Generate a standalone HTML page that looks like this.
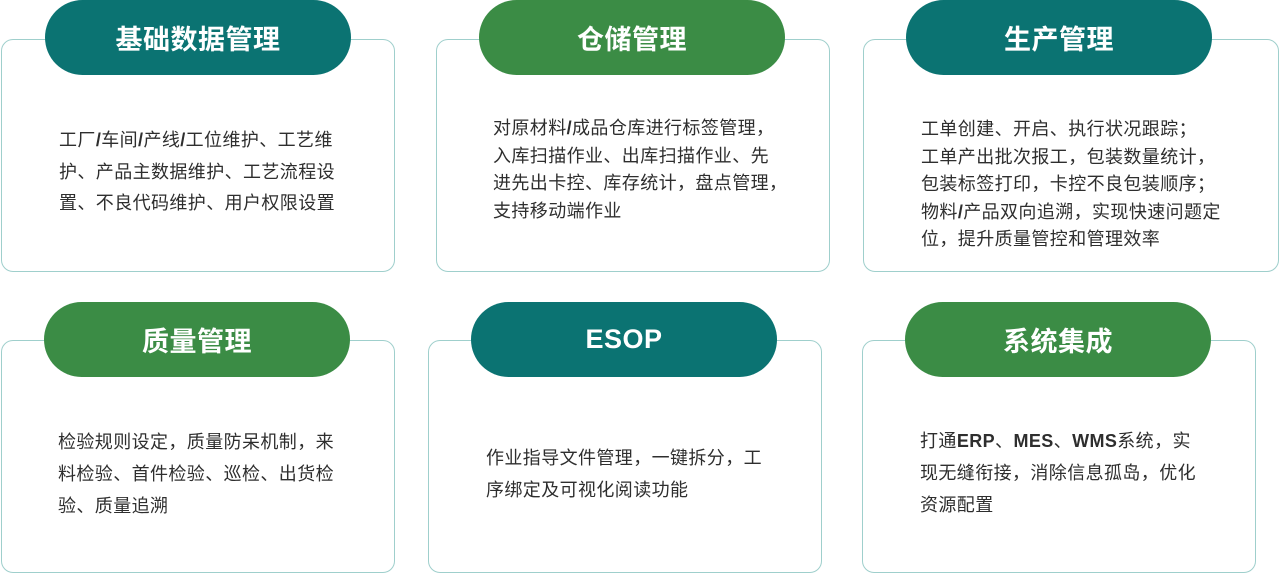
<!DOCTYPE html>
<html><head><meta charset="utf-8"><style>
body{margin:0;width:1280px;height:574px;background:#fff;position:relative;overflow:hidden;font-family:"Liberation Sans","Noto Sans CJK SC",sans-serif}
.card{position:absolute;border:1.5px solid #9fcfcc;border-radius:12px;box-sizing:border-box;background:#fff}
.pill{position:absolute;height:75px;border-radius:38px;color:#fff;font-weight:bold;font-size:27px;display:flex;align-items:center;justify-content:center;letter-spacing:0.5px}
.t{background:#0b7372}.g{background:#3b8c45}
.tx{position:absolute;font-size:18px;color:#2e2e2e;white-space:nowrap;letter-spacing:0.4px}
b{font-weight:bold}
</style></head><body>
<div class="card" style="left:1px;top:39px;width:394px;height:233px"></div>
<div class="pill t" style="left:45px;top:0;width:306px">基础数据管理</div>
<div class="tx" style="left:59px;top:125px;line-height:31.5px">工厂<b>/</b>车间<b>/</b>产线<b>/</b>工位维护、工艺维<br>护、产品主数据维护、工艺流程设<br>置、不良代码维护、用户权限设置</div>

<div class="card" style="left:436px;top:39px;width:394px;height:233px"></div>
<div class="pill g" style="left:479px;top:0;width:306px">仓储管理</div>
<div class="tx" style="left:493px;top:115px;line-height:27.7px">对原材料<b>/</b>成品仓库进行标签管理，<br>入库扫描作业、出库扫描作业、先<br>进先出卡控、库存统计，盘点管理，<br>支持移动端作业</div>

<div class="card" style="left:863px;top:39px;width:416px;height:233px"></div>
<div class="pill t" style="left:906px;top:0;width:306px">生产管理</div>
<div class="tx" style="left:921px;top:116px;line-height:27.5px">工单创建、开启、执行状况跟踪；<br>工单产出批次报工，包装数量统计，<br>包装标签打印，卡控不良包装顺序；<br>物料<b>/</b>产品双向追溯，实现快速问题定<br>位，提升质量管控和管理效率</div>

<div class="card" style="left:1px;top:340px;width:394px;height:233px"></div>
<div class="pill g" style="left:44px;top:302px;width:306px">质量管理</div>
<div class="tx" style="left:58px;top:426px;line-height:32px">检验规则设定，质量防呆机制，来<br>料检验、首件检验、巡检、出货检<br>验、质量追溯</div>

<div class="card" style="left:428px;top:340px;width:394px;height:233px"></div>
<div class="pill t" style="left:471px;top:302px;width:306px">ESOP</div>
<div class="tx" style="left:486px;top:442px;line-height:32px">作业指导文件管理，一键拆分，工<br>序绑定及可视化阅读功能</div>

<div class="card" style="left:862px;top:340px;width:394px;height:233px"></div>
<div class="pill g" style="left:905px;top:302px;width:306px">系统集成</div>
<div class="tx" style="left:920px;top:425px;line-height:32px">打通<b>ERP</b>、<b>MES</b>、<b>WMS</b>系统，实<br>现无缝衔接，消除信息孤岛，优化<br>资源配置</div>
</body></html>
